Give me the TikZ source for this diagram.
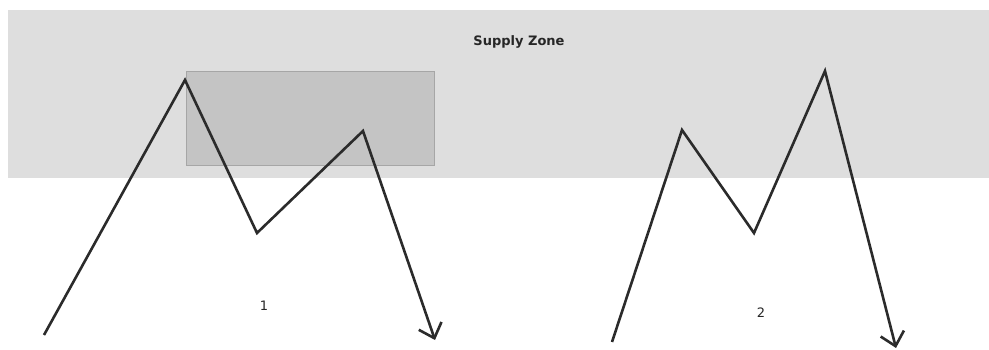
\documentclass[tikz,border=0pt]{standalone}
\usepackage{fontspec}
\setmainfont{DejaVu Sans}
\usepackage{xcolor,tikz}
\usetikzlibrary{arrows.meta,positioning}
\definecolor{zonegray}{HTML}{DEDEDE}
\definecolor{boxgray}{HTML}{C4C4C4}
\definecolor{boxline}{HTML}{A6A6A6}
\definecolor{pricecol}{HTML}{2B2B2B}

\begin{document}
\begin{tikzpicture}[x=1pt,y=-1pt,font=\fontsize{13}{15}\selectfont,
zone/.style={fill=zonegray,draw=none},
inner/.style={fill=boxgray,draw=boxline,line width=1pt},
price/.style={draw=pricecol,line width=2.6pt,line join=miter},
pricearr/.style={price,-{Straight Barb[length=13pt,width=24pt,line width=2.6pt]}},
lbl/.style={inner sep=0pt,text=black!85}]
\useasboundingbox (0,0) rectangle (989,350);
\fill[zone] (8,10) rectangle (989,178);
\draw[inner] (186,72) rectangle (434,166);
\node[lbl,font=\fontsize{13}{15}\selectfont\bfseries] (title) at (519,42) {Supply Zone};
% leg 1
\coordinate (a0) at (44,335); \coordinate (a1) at (185,80);
\coordinate (a2) at (257,233); \coordinate (a3) at (363,131);
\coordinate (a4) at (435,340);
\draw[pricearr] (a0)--(a1)--(a2)--(a3)--(a4);
% leg 2
\coordinate (b0) at (612,342); \coordinate (b1) at (682,130);
\coordinate (b2) at (754,233); \coordinate (b3) at (825,71);
\coordinate (b4) at (896,348);
\draw[pricearr] (b0)--(b1)--(b2)--(b3)--(b4);
\node[lbl] (one) at (264,306) {1};
\node[lbl] (two) at (761,313) {2};
\end{tikzpicture}
\end{document}
